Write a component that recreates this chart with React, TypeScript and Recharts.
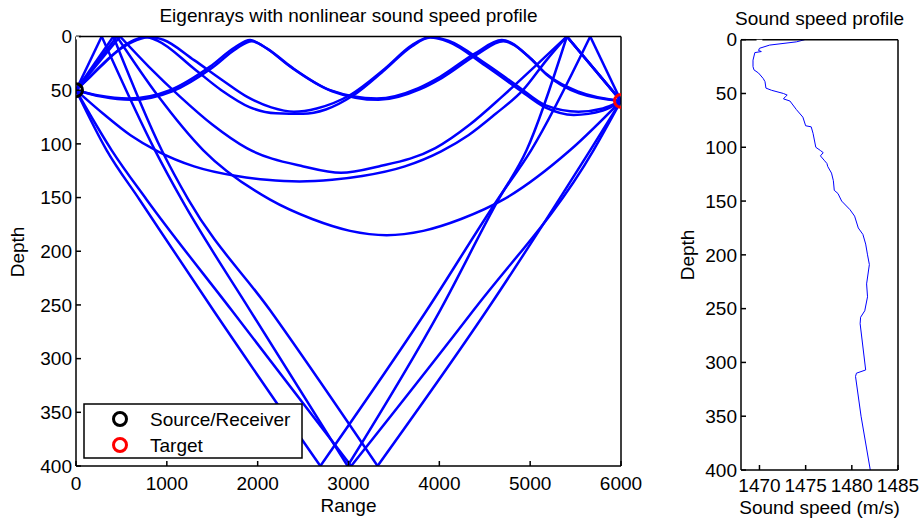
import React from 'react';
import { LineChart, Line, XAxis, YAxis } from 'recharts';

type Pt = [number, number];

// eigenray paths as [range, depth]
const rayDownBottomSurf: Pt[] = [[0, 50], [338, 106], [700, 152], [1512, 255], [2690, 400], [3862, 255], [4640, 152], [5010, 106], [5661, 0], [6000, 60]];
const raySurfBottomSurf: Pt[] = [[0, 50], [283, 0], [870, 106], [1164, 152], [1916, 255], [2990, 400], [4009, 255], [4650, 152], [4960, 106], [5404, 0], [6000, 60]];
const rayDownBottomDown: Pt[] = [[0, 50], [393, 106], [778, 152], [1714, 255], [3030, 400], [4376, 255], [5697, 106], [6000, 60]];
const raySurfBottomDown: Pt[] = [[0, 50], [411, 0], [944, 106], [1237, 152], [2137, 255], [3320, 400], [4523, 255], [5660, 106], [6000, 60]];
const rayDeep185: Pt[] = [[0, 50], [450, 0], [900, 55], [1402, 106], [2137, 152], [2600, 170], [3017, 181], [3420, 185], [3823, 181], [4240, 170], [4703, 152], [5438, 106], [6000, 60]];
const rayArc127: Pt[] = [[0, 50], [485, 0], [800, 28], [1145, 56], [1500, 82], [1880, 104], [2504, 121], [2918, 127], [3332, 121], [3956, 104], [4336, 82], [4691, 56], [5050, 28], [5404, 0], [6000, 60]];
const rayArc135: Pt[] = [[0, 50], [300, 72], [600, 92], [900, 107], [1300, 121], [1769, 130], [2100, 133.5], [2460, 135], [2820, 133.5], [3151, 130], [3620, 121], [4020, 107], [4320, 92], [4620, 72], [4920, 50], [5180, 22], [5404, 0], [6000, 60]];
const rayNearA: Pt[] = [[0, 50], [250, 55], [576, 57.7], [1035, 50], [1476, 28], [1750, 10], [1916, 3.3], [2080, 10], [2357, 28], [2797, 50], [3311, 57.7], [3770, 48], [4009, 37.5], [4394, 15.7], [4688, 3.3], [5000, 20], [5165, 34], [5532, 51.4], [6000, 60]];
const rayNearB: Pt[] = [[0, 50], [280, 56], [600, 59], [1060, 51], [1500, 29], [1770, 11], [1935, 4.5], [2100, 11], [2380, 29], [2820, 51], [3330, 59], [3790, 49], [4030, 38.5], [4410, 17], [4705, 4.5], [5010, 21], [5180, 35.5], [5540, 53], [6000, 60]];
const rayUpperA: Pt[] = [[0, 50], [150, 38], [301, 25], [500, 11], [668, 3.3], [815, 0.5], [960, 3], [1300, 22], [1600, 40], [1880, 56], [2150, 66], [2400, 70], [2650, 67], [3018, 54.5], [3400, 30], [3700, 8], [3899, 0.5], [4100, 4], [4504, 25], [4871, 46.8], [5165, 63.9], [5532, 70], [5800, 67], [6000, 60]];
const rayUpperB: Pt[] = [[0, 50], [160, 37], [320, 24], [520, 9], [680, 2], [760, 0.5], [900, 4], [1300, 30], [1600, 50], [1916, 66], [2200, 71.5], [2500, 72], [2750, 68], [3050, 55], [3400, 31], [3700, 9], [3899, 1], [4100, 5], [4504, 27], [4871, 49], [5165, 66], [5480, 73], [5800, 69], [6000, 60]];

const rays: Pt[][] = [
  rayDownBottomSurf, raySurfBottomSurf, rayDownBottomDown, raySurfBottomDown,
  rayDeep185, rayArc127, rayArc135, rayNearA, rayNearB, rayUpperA, rayUpperB,
];

const sourcePt: Pt = [0, 50];
const targetPt: Pt = [6000, 60];

// sound speed profile
const sspDepth = [0, 2, 5, 8, 10, 11, 12, 19, 25, 28, 31, 36, 39, 45, 47, 50, 51.5, 53, 55, 57, 65, 72, 80, 81, 87, 100, 103, 105, 108, 112, 115, 118, 124, 131, 140, 143, 150, 158, 164, 175, 181, 190, 200, 209, 227, 239, 252, 258, 264, 307, 310, 313, 350, 400];
const sspSpeed = [1474.9, 1474.0, 1471.1, 1470.0, 1469.9, 1470.2, 1469.5, 1469.3, 1469.3, 1469.4, 1469.9, 1470.4, 1470.6, 1470.7, 1471.3, 1472.6, 1473.0, 1472.8, 1472.6, 1473.3, 1474.0, 1474.7, 1475.0, 1475.6, 1475.8, 1476.1, 1476.6, 1476.9, 1476.6, 1477.0, 1477.3, 1477.4, 1477.8, 1478.0, 1478.1, 1478.5, 1478.9, 1479.8, 1480.3, 1480.7, 1481.2, 1481.5, 1481.7, 1481.9, 1481.6, 1481.7, 1481.4, 1480.95, 1480.9, 1481.5, 1480.5, 1480.4, 1481.0, 1482.0];

const rangeTicks = [0, 1000, 2000, 3000, 4000, 5000, 6000];
const depthTicks = [0, 50, 100, 150, 200, 250, 300, 350, 400];
const speedTicks = [1470, 1475, 1480, 1485];

const FONT = '"Liberation Sans", Arial, Helvetica, sans-serif';
const tickStyle = { fill: '#000', fontSize: 19, fontFamily: FONT };
const axisLine = { stroke: '#000', strokeWidth: 1.5 };
const tickLine = { stroke: '#000', strokeWidth: 1.5 };

// split each ray at surface / bottom reflections so the bounces stay sharp
const raySegments: { r: number; d: number }[][] = [];
rays.forEach((ray) => {
  let seg: { r: number; d: number }[] = [];
  ray.forEach(([r, d], i) => {
    seg.push({ r, d });
    if ((d === 0 || d === 400) && i > 0 && i < ray.length - 1) {
      raySegments.push(seg);
      seg = [{ r, d }];
    }
  });
  raySegments.push(seg);
});

const sspData = sspDepth.map((d, i) => ({ s: sspSpeed[i], d }));

const App: React.FC = () => {
  return (
    <div style={{ position: 'absolute', left: 0, top: 0, width: 920, height: 521, background: '#fff' }}>
      <div style={{ position: 'absolute', left: 0, top: 0 }}>
        <LineChart width={660} height={521} margin={{ top: 35.5, right: 38, bottom: 54, left: 75 }}>
          <XAxis xAxisId="b" type="number" dataKey="r" domain={[0, 6000]} ticks={rangeTicks} orientation="bottom"
            height={1} tickSize={-5} tickMargin={15.5} tick={tickStyle} axisLine={axisLine} tickLine={tickLine} allowDataOverflow />
          <XAxis xAxisId="t" type="number" dataKey="r" domain={[0, 6000]} ticks={rangeTicks} orientation="top"
            height={1} tickSize={-5} tick={false} axisLine={axisLine} tickLine={tickLine} allowDataOverflow />
          <YAxis yAxisId="l" type="number" dataKey="d" domain={[0, 400]} ticks={depthTicks} reversed orientation="left"
            width={1} tickSize={-5} tickMargin={9} tick={tickStyle} axisLine={axisLine} tickLine={tickLine} allowDataOverflow />
          <YAxis yAxisId="r" type="number" dataKey="d" domain={[0, 400]} ticks={depthTicks} reversed orientation="right"
            width={1} tickSize={-5} tick={false} axisLine={axisLine} tickLine={tickLine} allowDataOverflow />
          <Line xAxisId="b" yAxisId="l" data={[{ r: sourcePt[0], d: sourcePt[1] }]} dataKey="d" stroke="none"
            dot={{ r: 6.5, fill: 'none', stroke: '#000', strokeWidth: 3 }} isAnimationActive={false} />
          <Line xAxisId="b" yAxisId="l" data={[{ r: targetPt[0], d: targetPt[1] }]} dataKey="d" stroke="none"
            dot={{ r: 6.5, fill: 'none', stroke: '#ff0000', strokeWidth: 3 }} isAnimationActive={false} />
          <Line xAxisId="t" yAxisId="r" data={[{ r: 0, d: 0 }]} dataKey="d" stroke="none" dot={false} isAnimationActive={false} />
          {raySegments.map((data, i) => (
            <Line key={i} xAxisId="b" yAxisId="l" data={data} dataKey="d" type="monotone" stroke="#0000ff"
              strokeWidth={2.5} dot={false} isAnimationActive={false} />
          ))}
        </LineChart>
      </div>
      <div style={{ position: 'absolute', left: 640, top: 0 }}>
        <LineChart width={280} height={521} margin={{ top: 38.7, right: 21, bottom: 50, left: 100 }}>
          <XAxis xAxisId="b" type="number" dataKey="s" domain={[1468, 1485]} ticks={speedTicks} orientation="bottom"
            height={1} tickSize={-5} tickMargin={13.5} tick={tickStyle} axisLine={axisLine} tickLine={tickLine} allowDataOverflow />
          <XAxis xAxisId="t" type="number" dataKey="s" domain={[1468, 1485]} ticks={speedTicks} orientation="top"
            height={1} tickSize={-5} tick={false} axisLine={axisLine} tickLine={tickLine} allowDataOverflow />
          <YAxis yAxisId="l" type="number" dataKey="d" domain={[0, 400]} ticks={depthTicks} reversed orientation="left"
            width={1} tickSize={-5} tickMargin={9} tick={tickStyle} axisLine={axisLine} tickLine={tickLine} allowDataOverflow />
          <YAxis yAxisId="r" type="number" dataKey="d" domain={[0, 400]} ticks={depthTicks} reversed orientation="right"
            width={1} tickSize={-5} tick={false} axisLine={axisLine} tickLine={tickLine} allowDataOverflow />
          <Line xAxisId="t" yAxisId="r" data={[{ s: 1470, d: 0 }]} dataKey="d" stroke="none" dot={false} isAnimationActive={false} />
          <Line xAxisId="b" yAxisId="l" data={sspData} dataKey="d" type="linear" stroke="#0000ff"
            strokeWidth={1} dot={false} isAnimationActive={false} />
        </LineChart>
      </div>
      <svg width={920} height={521} style={{ position: 'absolute', left: 0, top: 0, pointerEvents: 'none' }}
        fontFamily={FONT} fontSize={19} fill="#000">
        <text x={348.5} y={22} textAnchor="middle">Eigenrays with nonlinear sound speed profile</text>
        <text x={348.5} y={512} textAnchor="middle">Range</text>
        <text transform="translate(24,252) rotate(-90)" textAnchor="middle">Depth</text>
        <text x={819.5} y={25} textAnchor="middle">Sound speed profile</text>
        <text x={819.5} y={514} textAnchor="middle">Sound speed (m/s)</text>
        <text transform="translate(694,255) rotate(-90)" textAnchor="middle">Depth</text>
        <rect x={84} y={404} width={218} height={54} fill="#fff" stroke="#000" strokeWidth={1.5} />
        <circle cx={120} cy={419} r={6.5} fill="none" stroke="#000" strokeWidth={3} />
        <circle cx={120} cy={445} r={6.5} fill="none" stroke="#ff0000" strokeWidth={3} />
        <text x={150} y={426}>Source/Receiver</text>
        <text x={150} y={452}>Target</text>
      </svg>
    </div>
  );
};

export default App;
